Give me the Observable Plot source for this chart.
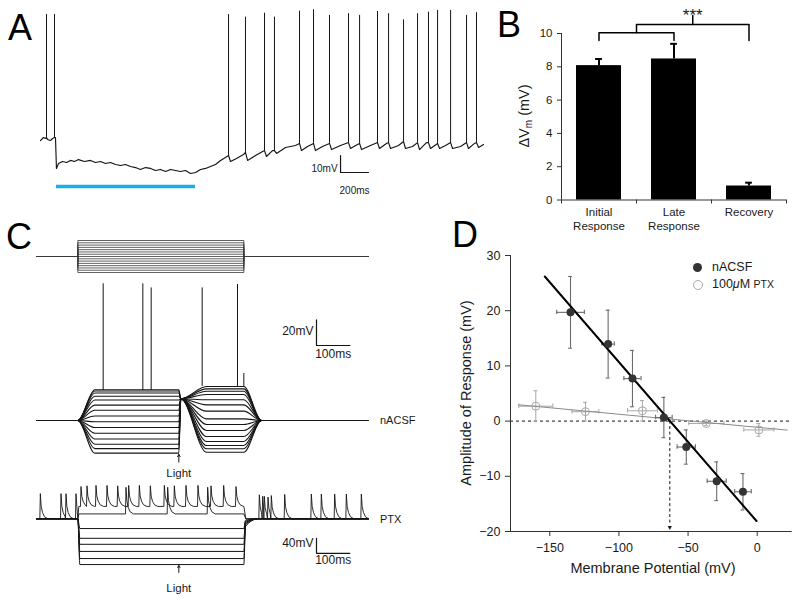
<!DOCTYPE html>
<html>
<head>
<meta charset="utf-8">
<script src="https://cdn.jsdelivr.net/npm/d3@7"></script>
<script src="https://cdn.jsdelivr.net/npm/@observablehq/plot@0.6"></script>
<style>
  html, body { margin: 0; padding: 0; background: #fff; }
  #fig { position: relative; width: 800px; height: 603px; overflow: hidden; background: #fff;
         font-family: "Liberation Sans", Arial, Helvetica, sans-serif; color: #1a1a1a; }
</style>
</head>
<body>
<div id="fig"></div>
<script>
// ================= DATA =================
// Panel A: membrane potential trace (time in ms, relative potential in mV)
const aBaseT = [0,21,36,50,71,86,107,114,129,157,186,214,243,271,314,357,393,429,464,500,536,571,607,643,679,714,750,786,821,857,893,929,964,1000,1036,1071,1107,1143,1179,1214,1250,1286,1321,1357,1400,1450,1479,1536,1586,1614,1657,1686,1750,1821,1864,1907,1964,2014,2079,2143,2214,2264,2293,2357,2421,2471,2500,2557,2607,2657,2707,2757,2786,2850,2893,2943,3000,3057,3100,3129,3164];
const aBaseV = [-1.2,0.6,0,-0.6,-1.2,0,0.6,-17.6,-14.7,-13.5,-14.1,-12.9,-13.5,-12.4,-13.5,-12.9,-14.1,-13.5,-14.7,-14.1,-15.3,-15.9,-15.3,-16.5,-17.1,-18.2,-17.1,-17.6,-18.8,-18.2,-19.4,-18.2,-18.8,-19.4,-18.8,-20.6,-20,-18.2,-17.6,-16.5,-15.3,-12.9,-11.2,-13.5,-11.8,-9.4,-12.9,-10,-7.6,-10.6,-7.1,-8.8,-5.3,-4.1,-7.1,-4.7,-7.1,-4.7,-6.5,-4.1,-5.9,-3.5,-6.5,-4.1,-5.9,-2.9,-5.9,-4.1,-5.9,-4.7,-6.5,-2.4,-5.9,-5.9,-4.1,-5.9,-4.7,-5.9,-2.9,-5.3,-3.5];
const aSpikeT    = [43,100,1343,1464,1600,1671,1850,1950,2064,2200,2279,2407,2486,2593,2693,2771,2836,2929,3043,3114];
const aSpikePeak = [72.9,72.9,72.9,71.4,73.7,71.4,74.9,75.7,72.4,73.4,72.4,74.7,73.4,69.8,73.4,74.3,75.3,75.3,72.4,74];
const aSpikeBase = [0.6,0.6,-10,-8.2,-7.1,-7.1,-2.9,-2.9,-2.9,-2.4,-2.9,-2.4,-2.4,-1.8,-2.4,-2.4,-2.9,-2.4,-2.4,-2.4];
const aLightOn = 114, aLightOff = 1107;

// Panel B
const bCats = ["Initial\nResponse", "Late\nResponse", "Recovery"];
const bMean = [8.07, 8.47, 0.84];
const bErr  = [0.40, 0.91, 0.20];

// Panel C (time in ms)
const cStepOn = 124, cLight = 427, cStepOff = 622, cEnd = 996;
const cCmdI = [-140,-120,-100,-80,-60,-40,-20,0,20,40,60,80,100,120,140];
// nACSF: steady levels before and after light (mV re. rest)
const nLevel1 = [-25.5,-22,-18.5,-14.5,-10,-5.5,-1,3.5,8,12,16,19,21.5,23,24];
const nLevel2 = [-24.8,-22.1,-19.5,-16.4,-12.5,-7.8,-3.1,1.3,7.3,12.2,16.2,20.3,22.9,24.7,26.6];
const nLightV = 17;
const nSpikeT    = [200,319,344,497,603,622];
const nSpikePeak = [106.8,106.8,103.6,103.6,106.3,36.7];
const nSpikeBase = [23.4,23.4,23.4,26.6,26.6,26.6];
// PTX
const pHyper    = [-26,-52,-68,-87,-106,-122];
const pHyperOff = [-4,-7,-10,-13,-16,-20];
const pDepol1 = 33, pDepol2 = 13;
const pPreT  = [10,72,87,117];
const pPreP  = [67,67,67,67];
const pStepT = [132,150,177,210,242,275,307,340,382,412,447,483,522,560,597];
const pStepP = [86,88,89,89,88,89,89,88,89,88,89,89,88,89,86];
const pPostT = [667,677,682,693,703,743,823,853,893,928,973];
const pPostP = [64,60,60,58,62,65,66,66,66,66,66];
const p2T = [267,392,512];
const p2P = [84,84,84];
const pSpikeDt   = [0,1.5,4,8,14,24];
const pSpikeFrac = [0,1,0.5,0.25,0.08,0];

// Panel D
const dNacsfX    = [-135,-107.8,-90.2,-67.5,-51.3,-29.3,-10.3];
const dNacsfY    = [19.7,13.95,7.7,0.65,-4.7,-10.9,-12.8];
const dNacsfXErr = [10,4.5,6.2,6,6.6,6.9,6];
const dNacsfYErr = [6.5,6.15,5.1,3.65,3.1,3.5,3.3];
const dPtxX    = [-160.1,-124.2,-83,-36.8,1.2];
const dPtxY    = [2.7,1.7,1.87,-0.43,-1.6];
const dPtxXErr = [12.3,9.7,10.8,12.7,10.9];
const dPtxYErr = [2.8,1.7,1.85,0.4,1.15];
const dNacsfFitX = [-153.6,-0.5], dNacsfFitY = [26.2,-18.1];
const dPtxFitX = [-172.4,21.7],  dPtxFitY = [2.95,-1.63];
const dReversal = -63.2;

// ================= HELPERS =================
const FONT = '"Liberation Sans", Arial, Helvetica, sans-serif';
const fig = document.getElementById("fig");
function put(node, left, top) {
  node.style.position = "absolute"; node.style.left = left + "px"; node.style.top = top + "px";
  fig.appendChild(node); return node;
}
function st(extra) {
  return Object.assign({background: "transparent", overflow: "visible", fontFamily: FONT, fontSize: "11px", color: "#1a1a1a"}, extra || {});
}
function html(content, css) {
  const d = document.createElement("div");
  d.innerHTML = content;
  d.style.cssText = "position:absolute;white-space:nowrap;" + css;
  fig.appendChild(d); return d;
}
const K = "#151515";

// ================= PANEL A =================
const aTrace = aBaseT.map((t, i) => ({t, v: aBaseV[i]}))
  .concat(aSpikeT.map((t, i) => ({t, v: aSpikeBase[i]})))
  .sort((a, b) => a.t - b.t);
const aSpikes = aSpikeT.map((t, i) => ({t, base: aSpikeBase[i], peak: aSpikePeak[i]}));
const sbA = {t: 2143, v: -20, dt: 200, dv: 10};
put(Plot.plot({
  width: 490, height: 200, margin: 0,
  x: {domain: [0, 3164], range: [40, 483], axis: null},
  y: {domain: [-35, 80], range: [197.5, 2], axis: null},
  style: st(),
  marks: [
    Plot.line(aTrace, {x: "t", y: "v", stroke: K, strokeWidth: 1.15, strokeLinejoin: "round"}),
    Plot.ruleX(aSpikes, {x: "t", y1: "base", y2: "peak", stroke: K, strokeWidth: 1}),
    Plot.ruleY([-28.2], {x1: aLightOn, x2: aLightOff, stroke: "#19aeef", strokeWidth: 3.5}),
    Plot.line([[sbA.t, sbA.v + sbA.dv], [sbA.t, sbA.v], [sbA.t + sbA.dt, sbA.v]], {stroke: K, strokeWidth: 1.2}),
    Plot.text(["10mV"], {x: sbA.t, y: sbA.v, text: d => d, textAnchor: "end", dx: -3, dy: -4, fontSize: 10}),
    Plot.text(["200ms"], {x: sbA.t + sbA.dt / 2, y: sbA.v, text: d => d, dy: 18, fontSize: 10})
  ]
}), 0, 0);

// ================= PANEL B =================
const bData = bCats.map((c, i) => ({i, cat: c, mean: bMean[i], err: bErr[i]}));
const bLow = [0, 1], bHighTo = 2;
const lowMid = (bLow[0] + bLow[1]) / 2, highMid = (lowMid + bHighTo) / 2;
put(Plot.plot({
  width: 320, height: 240,
  marginLeft: 81, marginRight: 14, marginTop: 33, marginBottom: 40.5,
  x: {domain: [-0.5, 2.5], axis: null},
  y: {domain: [0, 10], axis: null},
  style: st(),
  marks: [
    Plot.rect(bData, {x1: d => d.i - 0.3, x2: d => d.i + 0.3, y1: 0, y2: "mean", fill: "#000"}),
    Plot.ruleX(bData, {x: "i", y1: "mean", y2: d => d.mean + d.err, stroke: "#000", strokeWidth: 2}),
    Plot.ruleY(bData, {y: d => d.mean + d.err, x1: d => d.i - 0.045, x2: d => d.i + 0.045, stroke: "#000", strokeWidth: 2}),
    Plot.ruleX([-0.5], {y1: 0, y2: 10, stroke: "#333"}),
    Plot.ruleY([0], {x1: -0.5, x2: 2.5, stroke: "#333"}),
    Plot.axisY({ticks: [0, 2, 4, 6, 8, 10], tickSize: 4, tickPadding: 5, fontSize: 11.5, label: null, stroke: "#333"}),
    Plot.axisX({ticks: [-0.5, 0.5, 1.5, 2.5], tickSize: 4, tickFormat: () => "", label: null, stroke: "#333"}),
    Plot.axisX({ticks: [0, 1, 2], tickSize: 0, tickPadding: 6, tickFormat: i => bCats[i], fontSize: 11.5, lineHeight: 1.22, label: null}),
    Plot.line([[bLow[0], 9.58], [bLow[0], 10.04], [bLow[1], 10.04], [bLow[1], 9.58]], {stroke: "#000", strokeWidth: 1.5}),
    Plot.line([[lowMid, 10.04], [lowMid, 10.54], [bHighTo, 10.54], [bHighTo, 9.58]], {stroke: "#000", strokeWidth: 1.5}),
    Plot.line([[highMid, 10.54], [highMid, 11.08]], {stroke: "#000", strokeWidth: 1.5}),
    Plot.text(["***"], {x: highMid, y: 10.75, text: d => d, lineAnchor: "bottom", fontSize: 17})
  ]
}), 480, 0);
html('ΔV<sub style="font-size:10px;vertical-align:-3px;line-height:0">m</sub> (mV)',
  "left:523.5px;top:116px;font-size:14.5px;line-height:15px;color:#1a1a1a;transform:translate(-50%,-50%) rotate(-90deg);");

// ================= PANEL C =================
const cx = {domain: [0, cEnd], range: [36, 368], axis: null};
// command steps
const cmdData = cCmdI.flatMap((I, k) =>
  [[0, 0], [cStepOn, 0], [cStepOn, I], [cStepOff, I], [cStepOff, 0], [cEnd, 0]].map(([t, v]) => ({k, t, v})));
put(Plot.plot({
  width: 400, height: 44, margin: 0,
  x: cx, y: {domain: [-140, 140], range: [40, 8], axis: null},
  style: st(),
  marks: [Plot.line(cmdData, {x: "t", y: "v", z: "k", stroke: "#3a3a3a", strokeWidth: 0.8})]
}), 0, 232);

// nACSF traces
const nData = nLevel1.flatMap((L1, k) => {
  const L2 = nLevel2[k];
  return [[0, 0], [cStepOn, 0], [175, L1], [cLight, L1], [433, nLightV], [510, L2], [cStepOff, L2], [675, 0], [cEnd, 0]]
    .map(([t, v]) => ({k, t, v}));
});
const nSpikes = nSpikeT.map((t, i) => ({t, base: nSpikeBase[i], peak: nSpikePeak[i]}));
const sbN = {t: 840, v: 58.6, dt: 100, dv: 20};
put(Plot.plot({
  width: 400, height: 215, margin: 0,
  x: cx, y: {domain: [-50, 115], range: [214, 2.8], axis: null},
  style: st(),
  marks: [
    Plot.line(nData, {x: "t", y: "v", z: "k", curve: "monotone-x", stroke: K, strokeWidth: 1.1}),
    Plot.ruleX(nSpikes, {x: "t", y1: "base", y2: "peak", stroke: K, strokeWidth: 1}),
    Plot.line([[sbN.t, sbN.v + sbN.dv], [sbN.t, sbN.v], [sbN.t + sbN.dt, sbN.v]], {stroke: K, strokeWidth: 1.2}),
    Plot.text(["20mV"], {x: sbN.t, y: sbN.v + 11, text: d => d, textAnchor: "end", dx: -3, fontSize: 12}),
    Plot.text(["100ms"], {x: sbN.t + sbN.dt / 2, y: sbN.v, text: d => d, dy: 9, fontSize: 12}),
    Plot.arrow([cLight], {x1: d => d, x2: d => d, y1: -32.5, y2: -26.5, headLength: 4, stroke: K, strokeWidth: 1}),
    Plot.text(["Light"], {x: cLight, y: -41.4, text: d => d, fontSize: 11.5})
  ]
}), 0, 270);

// PTX traces
function spikeTrace(levels, spikes) {
  const events = levels.map(d => d[0]).concat(spikes.map(s => s.t)).sort((a, b) => a - b);
  const pts = levels.map(([t, v]) => ({t, v}));
  for (const s of spikes) {
    const next = events.find(e => e > s.t) ?? Infinity;
    pSpikeDt.forEach((dt, j) => {
      const t = s.t + dt;
      if (j === 0 || t < next) pts.push({t, v: s.base + pSpikeFrac[j] * (s.peak - s.base)});
    });
  }
  return pts.sort((a, b) => a.t - b.t);
}
const p1 = spikeTrace(
  [[0, 0], [cStepOn, 0], [127, pDepol1], [cStepOff, pDepol1], [628, 0], [cEnd, 0]],
  pPreT.map((t, i) => ({t, base: 0, peak: pPreP[i]}))
    .concat(pStepT.map((t, i) => ({t, base: pDepol1, peak: pStepP[i]})))
    .concat(pPostT.map((t, i) => ({t, base: 0, peak: pPostP[i]})))
).map(d => ({...d, k: "p1"}));
const p2 = spikeTrace(
  [[0, 0], [cStepOn, 0], [127, pDepol2], [cStepOff, pDepol2], [628, 0], [cEnd, 0]],
  p2T.map((t, i) => ({t, base: pDepol2, peak: p2P[i]}))
).map(d => ({...d, k: "p2"}));
const pHyData = pHyper.flatMap((L, k) =>
  [[0, 0], [cStepOn, 0], [130, L], [cStepOff, L], [627, pHyperOff[k]], [665, 0], [cEnd, 0]].map(([t, v]) => ({k, t, v})));
const sbP = {t: 840, v: -92, dt: 100, dv: 40};
put(Plot.plot({
  width: 400, height: 133, margin: 0,
  x: cx, y: {domain: [-210, 128], range: [127.05, 0.3], axis: null},
  style: st(),
  marks: [
    Plot.line(pHyData, {x: "t", y: "v", z: "k", curve: "monotone-x", stroke: K, strokeWidth: 1}),
    Plot.line(p2, {x: "t", y: "v", stroke: K, strokeWidth: 0.9}),
    Plot.line(p1, {x: "t", y: "v", stroke: K, strokeWidth: 0.9}),
    Plot.line([[sbP.t, sbP.v + sbP.dv], [sbP.t, sbP.v], [sbP.t + sbP.dt, sbP.v]], {stroke: K, strokeWidth: 1.2}),
    Plot.text(["40mV"], {x: sbP.t, y: sbP.v + 26, text: d => d, textAnchor: "end", dx: -3, fontSize: 12}),
    Plot.text(["100ms"], {x: sbP.t + sbP.dt / 2, y: sbP.v, text: d => d, dy: 7, fontSize: 12}),
    Plot.arrow([cLight], {x1: d => d, x2: d => d, y1: -143, y2: -124.5, headLength: 4, stroke: K, strokeWidth: 1}),
    Plot.text(["Light"], {x: cLight, y: -186, text: d => d, fontSize: 11.5})
  ]
}), 0, 470);
html("nACSF", "left:380px;top:414px;font-size:11px;line-height:12px;");
html("PTX", "left:380px;top:513px;font-size:11px;line-height:12px;");

// ================= PANEL D =================
const dN = dNacsfX.map((x, i) => ({x, y: dNacsfY[i], ex: dNacsfXErr[i], ey: dNacsfYErr[i]}));
const dP = dPtxX.map((x, i) => ({x, y: dPtxY[i], ex: dPtxXErr[i], ey: dPtxYErr[i]}));
const dxd = [-178.4, 25.3];
function errMarks(data, color, w) {
  const vEnds = data.flatMap(d => [{x: d.x, y: d.y - d.ey}, {x: d.x, y: d.y + d.ey}]);
  const hEnds = data.flatMap(d => [{x: d.x - d.ex, y: d.y}, {x: d.x + d.ex, y: d.y}]);
  return [
    Plot.ruleX(data, {x: "x", y1: d => d.y - d.ey, y2: d => d.y + d.ey, stroke: color, strokeWidth: w}),
    Plot.ruleY(data, {y: "y", x1: d => d.x - d.ex, x2: d => d.x + d.ex, stroke: color, strokeWidth: w}),
    Plot.ruleY(vEnds, {y: "y", x1: d => d.x - 1.4, x2: d => d.x + 1.4, stroke: color, strokeWidth: w}),
    Plot.ruleX(hEnds, {x: "x", y1: d => d.y - 0.4, y2: d => d.y + 0.4, stroke: color, strokeWidth: w})
  ];
}
put(Plot.plot({
  width: 400, height: 363,
  marginLeft: 110, marginRight: 8.3, marginTop: 15, marginBottom: 72,
  x: {domain: dxd, axis: null},
  y: {domain: [-20, 30], axis: null},
  style: st(),
  marks: [
    Plot.ruleY([0], {x1: dxd[0], x2: dxd[1], stroke: K, strokeWidth: 1, strokeDasharray: "3,3"}),
    Plot.ruleX([dReversal], {y1: 0, y2: -18.8, stroke: K, strokeWidth: 1, strokeDasharray: "3,2.5"}),
    Plot.text([dReversal], {x: d => d, y: -19.3, text: () => "▼", fontSize: 7, fill: K}),
    ...errMarks(dP, "#a8a8a8", 1),
    Plot.line(dPtxFitX.map((x, i) => [x, dPtxFitY[i]]), {stroke: "#8a8a8a", strokeWidth: 1}),
    Plot.dot(dP, {x: "x", y: "y", r: 4, fill: "none", stroke: "#a8a8a8", strokeWidth: 1}),
    ...errMarks(dN, "#6a6a6a", 1.1),
    Plot.line(dNacsfFitX.map((x, i) => [x, dNacsfFitY[i]]), {stroke: "#000", strokeWidth: 2}),
    Plot.dot(dN, {x: "x", y: "y", r: 4, fill: "#333", stroke: "none"}),
    Plot.ruleX([dxd[0]], {y1: -20, y2: 30, stroke: "#333"}),
    Plot.ruleY([-20], {x1: dxd[0], x2: dxd[1], stroke: "#333"}),
    Plot.axisX({ticks: [-150, -100, -50, 0], tickSize: 5, tickPadding: 7, fontSize: 12.5, label: null, stroke: "#333"}),
    Plot.axisY({ticks: [-20, -10, 0, 10, 20, 30], tickSize: 5, tickPadding: 5, fontSize: 12.5, label: null, stroke: "#333"})
  ]
}), 400, 240);
html("Membrane Potential (mV)", "left:653px;top:568px;font-size:14.5px;line-height:15px;transform:translate(-50%,-50%);");
html("Amplitude of Response (mV)", "left:465.5px;top:393px;font-size:14.5px;line-height:15px;transform:translate(-50%,-50%) rotate(-90deg);");
// legend
html('<span style="display:inline-block;width:9px;height:9px;border-radius:50%;background:#333;vertical-align:middle;margin-right:10px"></span>nACSF',
  "left:693px;top:261px;font-size:12.5px;line-height:13px;");
html('<span style="display:inline-block;width:8px;height:8px;border-radius:50%;border:1px solid #aaa;box-sizing:content-box;vertical-align:middle;margin-right:9px"></span>100<i>μ</i>M <span style="font-size:10.5px">PTX</span>',
  "left:693px;top:278px;font-size:12.5px;line-height:13px;");

// ================= PANEL LETTERS =================
html("A", "left:8px;top:9.5px;font-size:36px;line-height:36px;color:#000;");
html("B", "left:497px;top:6.5px;font-size:36px;line-height:36px;color:#000;");
html("C", "left:6px;top:219px;font-size:36px;line-height:36px;color:#000;");
html("D", "left:452px;top:217px;font-size:36px;line-height:36px;color:#000;");
</script>
</body>
</html>
